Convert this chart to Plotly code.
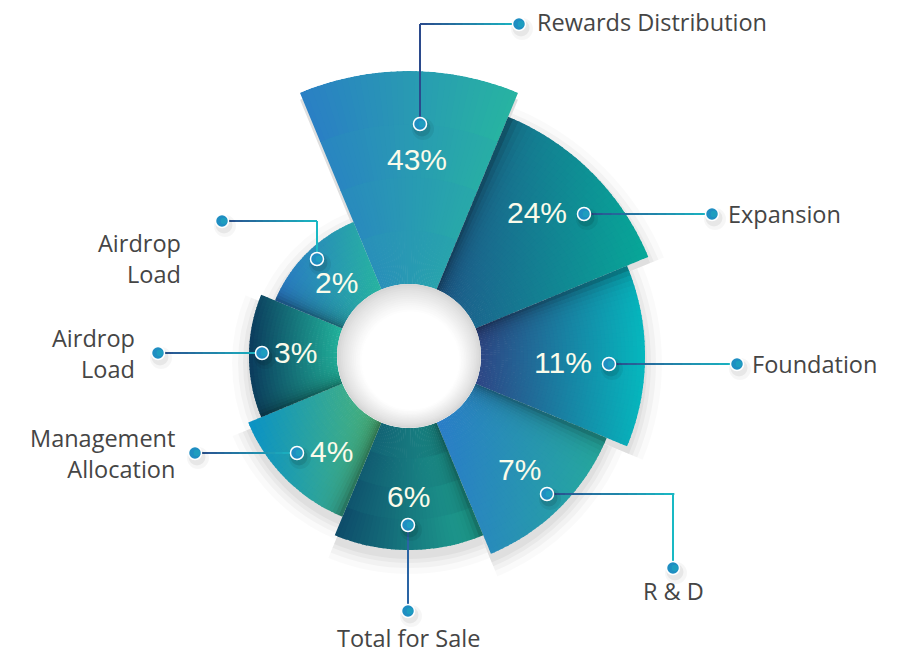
import math
import numpy as np
import plotly.graph_objects as go

W, H = 907, 656

# ---------------- data ----------------
categories = ["Rewards Distribution", "Expansion", "Foundation", "R & D",
              "Total for Sale", "Management Allocation", "Airdrop Load", "Airdrop Load"]
label_text = ["Rewards Distribution", "Expansion", "Foundation", "R & D",
              "Total for Sale", "Management<br>Allocation", "Airdrop<br>Load", "Airdrop<br>Load"]
values = [43, 24, 11, 7, 6, 4, 3, 2]
bar_length = [213, 187, 164, 142, 122, 102, 88, 73]   # drawn radial length of each petal

# ---------------- style ----------------
grad_left = ["#2a7dc6", "#1f5a8c", "#2f4585", "#2a7dc8", "#0d4868", "#0a92c6", "#0b3a5c", "#2a78c6"]
grad_right = ["#27b6a0", "#07a898", "#05b8be", "#25aa9c", "#20aa96", "#4db678", "#22b49c", "#27b4a0"]

CX, CY = 409, 356          # chart centre (px)
HOLE = 72                  # hole radius (px)
RMAX = HOLE + max(bar_length)

n = len(values)
step = 360.0 / n


def hex2rgb(h):
    h = h.lstrip("#")
    return np.array([int(h[i:i + 2], 16) for i in (0, 2, 4)], dtype=float)


def rgbstr(c):
    c = np.clip(c, 0, 255)
    return "rgb(%d,%d,%d)" % tuple(int(round(v)) for v in c)


# ---------------- gradient cells of each petal ----------------
N_A = 36
th, wd, bs, rr, cc = [], [], [], [], []
for k in range(n):
    L = bar_length[k]
    a_c = k * step
    a_start = a_c - step / 2
    N_R = max(4, int(L * abs(math.sin(math.radians(a_c))) / 4) + 1)
    angs = np.radians(np.linspace(a_start, a_start + step, 80))
    xs = np.concatenate([CX + (HOLE + L) * np.sin(angs), CX + HOLE * np.sin(angs)])
    xmin, xmax = xs.min(), xs.max()
    cl, cr = hex2rgb(grad_left[k]), hex2rgb(grad_right[k])
    da = step / N_A
    for i in range(N_A):
        a0 = a_start + i * da
        a1 = a0 + da + (0.35 if i < N_A - 1 else 0)
        am = a0 + da / 2
        for j in range(N_R):
            b0 = j * L / N_R
            b1n = (j + 1) * L / N_R
            b1 = b1n + (1.0 if j < N_R - 1 else 0)
            bm = (b0 + b1n) / 2
            x = CX + (HOLE + bm) * math.sin(math.radians(am))
            t = (x - xmin) / (xmax - xmin)
            col = cl + (cr - cl) * t
            if k > 0:
                d = (HOLE + bm) * math.sin(math.radians(am - a_start))
                shade = 0.38 * math.exp(-d / 9.0)
                col = col * (1 - shade)
            th.append((a0 + a1) / 2)
            wd.append(a1 - a0)
            bs.append(b0)
            rr.append(b1 - b0)
            cc.append(rgbstr(col))

fig = go.Figure()

# soft drop shadow (separate polar, shifted down)
for e, a in [(2, 0.04), (6, 0.035), (11, 0.03), (17, 0.02)]:
    fig.add_trace(go.Barpolar(
        r=[L + e for L in bar_length],
        theta=[k * step for k in range(n)],
        width=[step] * n,
        marker=dict(color="rgba(0,0,0,%g)" % a, line=dict(width=0)),
        hoverinfo="skip", subplot="polar", showlegend=False))

fig.add_trace(go.Barpolar(
    r=rr, theta=th, width=wd, base=bs,
    marker=dict(color=cc, line=dict(width=0)),
    hoverinfo="skip", subplot="polar2", showlegend=False))


def dom(dy=0):
    return dict(x=[(CX - RMAX) / W, (CX + RMAX) / W],
                y=[(H - CY - dy - RMAX) / H, (H - CY - dy + RMAX) / H])


def polar_layout(dy=0):
    return dict(
        domain=dom(dy), hole=HOLE / RMAX, bgcolor="rgba(0,0,0,0)", barmode="overlay",
        radialaxis=dict(range=[0, max(bar_length)], visible=False, showgrid=False,
                        showline=False, showticklabels=False, ticks=""),
        angularaxis=dict(rotation=90, direction="clockwise", visible=False, showgrid=False,
                         showline=False, showticklabels=False, ticks=""),
    )


# ---------------- callouts (pixel layout) ----------------
inner_pt = [(420, 124), (584, 214), (609, 364), (547, 494), (408, 525), (297, 453), (262, 353), (317, 259)]
outer_pt = [(519, 24), (712, 214), (737, 364), (673, 568), (408, 611), (195, 453), (158, 353), (222, 221)]
elbow = ["v", None, None, "h", None, None, None, "v"]
pct_pos = [(417, 160), (537, 213), (563, 363), (519, 470), (408, 497), (331, 452), (295, 353), (336, 283)]
label_pos = [(535, 22, "left"), (726, 214, "left"), (750, 364, "left"), (673, 591, "center"),
             (408, 638, "center"), (177, 453, "right"), (137, 353, "right"), (183, 258, "right")]

NAVY, TEAL = hex2rgb("#2b4a8c"), hex2rgb("#19b9c4")


def px(x):
    return x / W


def py(y):
    return 1 - y / H


shapes = []
for k in range(n):
    p0, p2 = inner_pt[k], outer_pt[k]
    if elbow[k] == "v":
        pts = [p0, (p0[0], p2[1]), p2]
    elif elbow[k] == "h":
        pts = [p0, (p2[0], p0[1]), p2]
    else:
        pts = [p0, p2]
    xs_ = [p[0] for p in pts]
    xmn, xmx = min(xs_), max(xs_)
    for (xa, ya), (xb, yb) in zip(pts[:-1], pts[1:]):
        nseg = 14 if xa != xb else 1
        for s in range(nseg):
            f0, f1 = s / nseg, (s + 1) / nseg
            x0, y0 = xa + (xb - xa) * f0, ya + (yb - ya) * f0
            x1, y1 = xa + (xb - xa) * f1, ya + (yb - ya) * f1
            if xmx > xmn:
                t = ((x0 + x1) / 2 - xmn) / (xmx - xmn)
                col = NAVY + (TEAL - NAVY) * t
            else:
                col = hex2rgb("#2a64a4")
            ex = (x1 - x0) * 0.15
            shapes.append(dict(type="line", xref="paper", yref="paper", layer="above",
                               x0=px(x0), y0=py(y0), x1=px(x1 + ex), y1=py(y1),
                               line=dict(color=rgbstr(col), width=2)))


def circle(x, y, r, fill, line_col=None, lw=0, dx=0, dy=0):
    return dict(type="circle", xref="paper", yref="paper", layer="above",
                x0=px(x + dx - r), x1=px(x + dx + r), y0=py(y + dy + r), y1=py(y + dy - r),
                fillcolor=fill, line=dict(color=line_col or "rgba(0,0,0,0)", width=lw))


# hole "sphere" shading
for s in range(18):
    f = s / 17
    r = HOLE - f * 30
    g = 0xd6 + (0xff - 0xd6) * min(1, (f / 0.75) ** 0.8)
    shapes.append(circle(CX + 2 * f, CY + 6 * f, r, rgbstr(np.array([g, g, g]))))

# markers with shadows (two-tone fill approximates the blue->teal gradient)
for pts, in_slice in ((inner_pt, True), (outer_pt, False)):
    for (x, y) in pts:
        a = 0.10 if in_slice else 0.06
        shapes.append(circle(x, y, 11, "rgba(0,0,0,%g)" % (a * 0.6), dx=3, dy=5))
        shapes.append(circle(x, y, 8.5, "rgba(0,0,0,%g)" % a, dx=2, dy=4))
        shapes.append(circle(x, y, 6.5, "#1f8ec2", "white", 1.5))
        shapes.append(circle(x, y, 3.2, "rgba(30,170,190,0.55)", dx=1.8))

annotations = []
for k in range(n):
    x, y = pct_pos[k]
    annotations.append(dict(x=px(x), y=py(y - 1), xref="paper", yref="paper",
                            text="%d%%" % values[k], showarrow=False,
                            xanchor="center", yanchor="middle",
                            font=dict(family="Liberation Sans, Arial, sans-serif", size=30,
                                      color="#fbfbea")))
    lx, ly, al = label_pos[k]
    annotations.append(dict(x=px(lx), y=py(ly), xref="paper", yref="paper",
                            text=label_text[k], showarrow=False, align=al,
                            xanchor=al, yanchor="middle",
                            font=dict(family="Open Sans, sans-serif", size=23.5, color="#454545")))

fig.update_layout(
    width=W, height=H, margin=dict(l=0, r=0, t=0, b=0),
    paper_bgcolor="white", plot_bgcolor="white", showlegend=False,
    polar=polar_layout(dy=7), polar2=polar_layout(0),
    shapes=shapes, annotations=annotations,
)

fig.write_html("out.html", config={"displayModeBar": False},
               post_script="document.body.style.margin='0';")
